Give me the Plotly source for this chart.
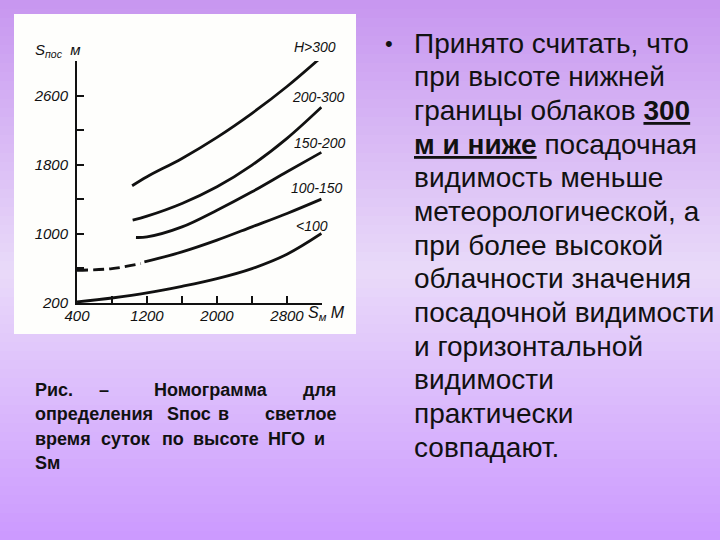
import plotly.graph_objects as go

# ---------------- data ----------------
x_ticks = [400, 1200, 2000, 2800]
x_tick_labels = ["400", "1200", "2000", "2800"]
x_minor_ticks = [800, 1600, 2400, 3200]
y_ticks = [200, 1000, 1800, 2600]
y_tick_labels = ["200", "1000", "1800", "2600"]
y_minor_ticks = [600, 1400, 2200, 3000]

h300_x = [1030, 1200, 1600, 2000, 2400, 2800, 3200]
h300_y = [1557, 1661, 1873, 2117, 2395, 2705, 3052]

h200_x = [1036, 1200, 1600, 2000, 2400, 2800, 3193]
h200_y = [1159, 1205, 1352, 1545, 1796, 2105, 2465]

h150_x = [1074, 1200, 1600, 2000, 2400, 2800, 3193]
h150_y = [958, 965, 1081, 1274, 1487, 1719, 1943]

h100_dash_x = [400, 800, 1130]
h100_dash_y = [579, 598, 656]
h100_x = [1170, 1600, 2000, 2400, 2800, 3193]
h100_y = [675, 791, 927, 1081, 1236, 1402]

hlow_x = [400, 800, 1200, 1600, 2000, 2400, 2800, 3193]
hlow_y = [212, 258, 316, 393, 482, 598, 764, 1004]

curve_labels = ["200-300", "150-200", "100-150", "<100"]
curve_label_x = [3155, 3178, 3143, 3086]
curve_label_y = [2579, 2048, 1528, 1089]
top_curve_label = "H>300"

bullet_lines = [
    "Принято считать, что",
    "при высоте нижней",
    "границы облаков <b><u>300</u></b>",
    "<b><u>м и ниже</u></b> посадочная",
    "видимость меньше",
    "метеорологической, а",
    "при более высокой",
    "облачности значения",
    "посадочной видимости",
    "и горизонтальной",
    "видимости",
    "практически",
    "совпадают.",
]

caption_lines = [
    ["Рис.", "–", "Номограмма", "для"],
    ["определения", "Sпос", "в", "светлое"],
    ["время", "суток", "по", "высоте", "НГО", "и"],
    ["Sм"],
]

# ---------------- geometry helpers (pixel -> paper) ----------------
W, H = 720, 540
L, R, T, B = 77, 322, 61, 303


def px_x(p):
    return (p - L) / (R - L)


def px_y(p):
    return (B - p) / (B - T)


fig = go.Figure()

line_style = dict(color="#111111", width=2.8, shape="spline")
for xs, ys in [(h300_x, h300_y), (h200_x, h200_y), (h150_x, h150_y),
               (h100_x, h100_y), (hlow_x, hlow_y)]:
    fig.add_trace(go.Scatter(x=xs, y=ys, mode="lines", line=line_style,
                             hoverinfo="skip", showlegend=False, cliponaxis=False))
fig.add_trace(go.Scatter(x=h100_dash_x, y=h100_dash_y, mode="lines",
                         line=dict(color="#111111", width=2.8, dash="11px,5px",
                                   shape="spline"),
                         hoverinfo="skip", showlegend=False, cliponaxis=False))

shapes = []
# gradient background
top = (199, 150, 240)
mid = (233, 218, 249)
bot = (204, 153, 255)
n = 60
for i in range(n):
    y0p = i * H / n
    y1p = (i + 1) * H / n + 1
    t = (i + 0.5) / n
    if t < 0.5:
        a, b_, f = top, mid, t / 0.5
    else:
        a, b_, f = mid, bot, (t - 0.5) / 0.5
    c = tuple(int(round(a[k] + (b_[k] - a[k]) * f)) for k in range(3))
    shapes.append(dict(type="rect", xref="paper", yref="paper", layer="below",
                       x0=px_x(0), x1=px_x(W), y0=px_y(y1p), y1=px_y(y0p),
                       fillcolor="rgb(%d,%d,%d)" % c, line=dict(width=0)))
# white picture box
shapes.append(dict(type="rect", xref="paper", yref="paper", layer="below",
                   x0=px_x(14), x1=px_x(356), y0=px_y(334), y1=px_y(14),
                   fillcolor="#fefefc", line=dict(width=0)))


def ann(text, xp, yp, font, xanchor="center", yanchor="middle"):
    return dict(x=px_x(xp), y=px_y(yp), xref="paper", yref="paper", text=text,
                xanchor=xanchor, yanchor=yanchor, showarrow=False, font=font)


annotations = []
lab_font = dict(family="Liberation Sans", size=14, color="#111111")
for txt, xv, yv in zip(curve_labels, curve_label_x, curve_label_y):
    annotations.append(dict(x=xv, y=yv, xref="x", yref="y", text="<i>%s</i>" % txt,
                            xanchor="center", yanchor="middle",
                            showarrow=False, font=lab_font))
annotations.append(ann("<i>%s</i>" % top_curve_label, 315, 47, lab_font))
annotations.append(ann("<i>S<sub>пос</sub>  м</i>", 33, 50,
                       dict(family="Liberation Sans", size=15, color="#111"), xanchor="left"))
annotations.append(ann("<i>S<sub>м</sub> М</i>", 306, 313,
                       dict(family="Liberation Sans", size=16, color="#111"), xanchor="left"))

# right bullet text
body_font = dict(family="Liberation Sans", size=28, color="#111111")
annotations.append(ann("•", 389, 43, dict(family="Liberation Sans", size=22, color="#111")))
for i, ln in enumerate(bullet_lines):
    annotations.append(ann(ln, 412, 43 + i * 33.67, body_font, xanchor="left"))

# caption (justified)
cap_font = dict(family="Liberation Sans", size=18, color="#111111")
cap_pos = [
    [33, 104, 211, 338],
    [33, 189, 223, 338],
    [33, 126, 173, 226, 286, 319],
    [33],
]
cap_y = [390, 414, 439, 463]
for words, poss, yv in zip(caption_lines, cap_pos, cap_y):
    for j, (w, p) in enumerate(zip(words, poss)):
        if j == 0:
            anc = "left"
        elif j == len(words) - 1 and len(words) == 4:
            anc = "right"
        else:
            anc = "center"
        annotations.append(ann("<b>%s</b>" % w, p, yv, cap_font, xanchor=anc))

fig.update_layout(
    width=W, height=H, autosize=False,
    margin=dict(l=L, r=W - R, t=T, b=H - B, pad=0, autoexpand=False),
    paper_bgcolor="rgb(220,190,245)",
    plot_bgcolor="rgba(0,0,0,0)",
    shapes=shapes,
    annotations=annotations,
    showlegend=False,
)
fig.update_xaxes(range=[400, 3200], tickmode="array", tickvals=x_ticks,
                 ticktext=["<i>%s</i>" % t for t in x_tick_labels],
                 ticks="inside", ticklen=7, tickwidth=1.5, tickcolor="#111",
                 minor=dict(tickmode="array", tickvals=x_minor_ticks, ticks="inside",
                            ticklen=7, tickwidth=1.5, tickcolor="#111", showgrid=False),
                 showline=True, linewidth=2, linecolor="#111", tickangle=0,
                 showgrid=False, zeroline=False, automargin=False, ticklabelstandoff=-2,
                 tickfont=dict(family="Liberation Sans", size=15, color="#111"))
fig.update_yaxes(range=[200, 3000], tickmode="array", tickvals=y_ticks,
                 ticktext=["<i>%s</i>" % t for t in y_tick_labels],
                 ticks="inside", ticklen=7, tickwidth=1.5, tickcolor="#111",
                 minor=dict(tickmode="array", tickvals=y_minor_ticks, ticks="inside",
                            ticklen=7, tickwidth=1.5, tickcolor="#111", showgrid=False),
                 showline=True, linewidth=2, linecolor="#111",
                 showgrid=False, zeroline=False, automargin=False, ticklabelstandoff=4,
                 tickfont=dict(family="Liberation Sans", size=15, color="#111"))

fig.write_html("out.html", config={"displayModeBar": False},
               post_script="document.body.style.margin='0';document.body.style.overflow='hidden';")
